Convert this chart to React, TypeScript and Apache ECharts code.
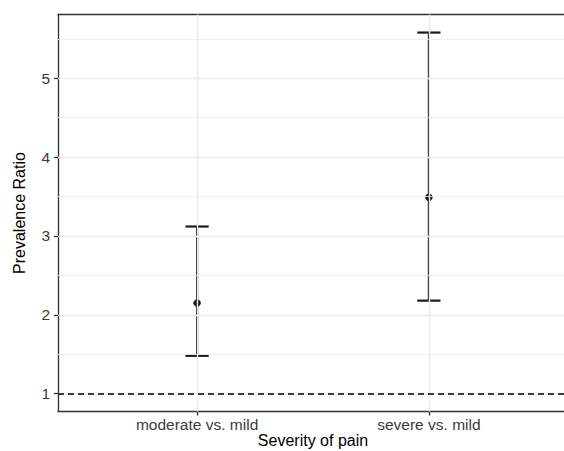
import React, { useEffect, useRef } from "react";
import * as echarts from "echarts";

const categories = ["moderate vs. mild", "severe vs. mild"];
const estimates = [2.15, 3.49];
const lowerCI = [1.48, 2.18];
const upperCI = [3.12, 5.58];
const yTicks = [1, 2, 3, 4, 5];
const yMinorTicks = [1.5, 2.5, 3.5, 4.5, 5.5];
const referenceValue = 1;
const yMin = 0.774;
const yMax = 5.809;

const FONT = "Liberation Sans, Arial, Helvetica, sans-serif";

export default function App() {
  const ref = useRef<HTMLDivElement>(null);
  useEffect(() => {
    if (!ref.current) return;
    document.documentElement.style.overflow = "hidden";
    document.body.style.margin = "0";
    document.body.style.overflow = "hidden";
    const chart = echarts.init(ref.current, undefined, { renderer: "svg" });
    const xPos = categories.map((_, i) => i + 1);
    const barData = xPos.map((x, i) => [x, lowerCI[i], upperCI[i], estimates[i]]);
    const capWidth = 0.1;
    const lineColor = "#1a1a1a";
    const frame = { color: "#333333", width: 1.3 };

    const option: any = {
      animation: false,
      grid: { left: 58, top: 14.5, right: 0, bottom: 39.5, containLabel: false, outerBoundsMode: "none", show: false },
      xAxis: [
        {
          type: "value", min: 0.4, max: 2.6,
          name: "Severity of pain", nameLocation: "middle", nameGap: 21, nameMoveOverlap: false,
          nameTextStyle: { color: "#000", fontSize: 16, fontFamily: FONT },
          axisLine: { show: true, onZero: false, lineStyle: frame },
          axisTick: { show: true, customValues: xPos, length: 4, lineStyle: frame },
          axisLabel: {
            show: true, customValues: xPos, margin: 5, color: "#3a3a3a", fontSize: 15.5, fontFamily: FONT,
            formatter: (v: number) => categories[Math.round(v) - 1] ?? "",
          },
          splitLine: { show: false },
        },
        {
          type: "value", position: "top", min: 0.4, max: 2.6,
          axisLine: { show: true, onZero: false, lineStyle: frame },
          axisTick: { show: false },
          axisLabel: { show: false },
          splitLine: { show: false },
        },
      ],
      yAxis: {
        type: "value", min: yMin, max: yMax,
        name: "Prevalence Ratio", nameLocation: "middle", nameGap: 31, nameMoveOverlap: false,
        nameTextStyle: { color: "#000", fontSize: 16, fontFamily: FONT },
        axisLine: { show: true, onZero: false, lineStyle: frame },
        axisTick: { show: true, customValues: yTicks, length: 4, lineStyle: frame },
        axisLabel: { show: true, customValues: yTicks, margin: 8, color: "#3a3a3a", fontSize: 15.5, fontFamily: FONT },
        splitLine: { show: false },
      },
      series: [
        { type: "line", data: [], z: 1, silent: true,
          markLine: { silent: true, symbol: "none", label: { show: false },
            lineStyle: { color: "#EBEBEB", width: 0.8, type: "solid" },
            data: yMinorTicks.map((v) => ({ yAxis: v })) } },
        { type: "line", data: [], z: 1, silent: true,
          markLine: { silent: true, symbol: "none", label: { show: false },
            lineStyle: { color: "#EBEBEB", width: 1.4, type: "solid" },
            data: [...yTicks.map((v) => ({ yAxis: v })), ...xPos.map((v) => ({ xAxis: v }))] } },
        { type: "line", data: [], z: 2, silent: true,
          markLine: { silent: true, symbol: "none", label: { show: false },
            lineStyle: { color: "#000000", width: 1.6, type: [6, 4] },
            data: [{ yAxis: referenceValue }] } },
        {
          type: "custom", z: 3, data: barData,
          renderItem: (params: any, api: any) => {
            const x = api.value(0), lo = api.value(1), hi = api.value(2), est = api.value(3);
            const top = api.coord([x, hi]), bot = api.coord([x, lo]), mid = api.coord([x, est]);
            const half = api.size([capWidth, 0])[0] / 2;
            const style = { stroke: lineColor, lineWidth: 2.2, fill: "none" };
            return { type: "group", children: [
              { type: "line", shape: { x1: top[0], y1: top[1], x2: bot[0], y2: bot[1] }, style },
              { type: "line", shape: { x1: top[0] - half, y1: top[1], x2: top[0] + half, y2: top[1] }, style },
              { type: "line", shape: { x1: bot[0] - half, y1: bot[1], x2: bot[0] + half, y2: bot[1] }, style },
              { type: "circle", shape: { cx: mid[0], cy: mid[1], r: 3.5 }, style: { fill: lineColor, stroke: lineColor, lineWidth: 0.5 } },
            ] };
          },
        },
      ],
    };
    chart.setOption(option);
    return () => chart.dispose();
  }, []);
  return (
    <div style={{ position: "fixed", left: 0, top: 0, width: 564, height: 451, overflow: "hidden", background: "#fff" }}>
      <div ref={ref} style={{ width: 568, height: 451 }} />
    </div>
  );
}
